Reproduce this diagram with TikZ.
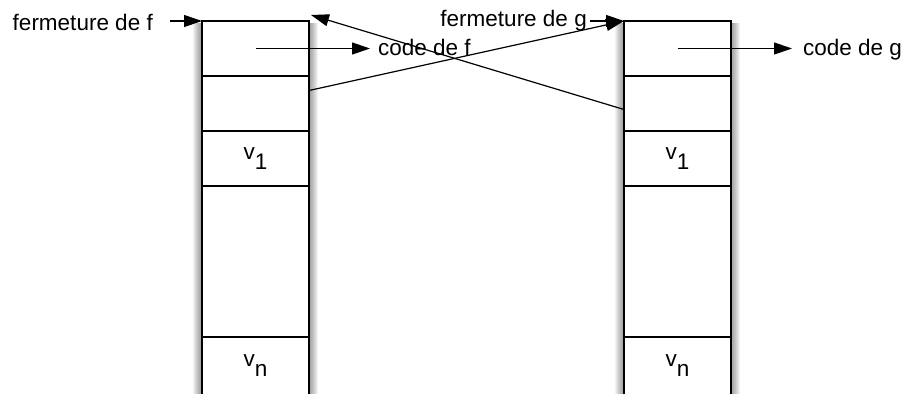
\documentclass[tikz,border=0pt]{standalone}
\usepackage{fontspec}
\setmainfont{Liberation Sans}
\usetikzlibrary{positioning,arrows.meta,backgrounds}
\tikzset{>={Triangle[length=18pt,width=12pt]}}
\tikzset{
  cell/.style={draw, line width=1.6pt, fill=white, minimum width=107pt, minimum height=55pt,
    inner sep=0pt, outer sep=0pt, font=\fontsize{22.5}{27}\selectfont},
  lbl/.style={inner sep=0pt, font=\fontsize{22.5}{27}\selectfont},
  link/.style={->, line width=1.2pt}
}
\newcommand{\vsub}[1]{v\raisebox{-0.42em}{#1}}

\begin{document}
\begin{tikzpicture}[x=1pt, y=-1pt]
    \useasboundingbox (0,0) rectangle (905,394);
    % closure of f
    \node[cell, anchor=north west] (fa) at (202,21) {};
    \node[cell, below=0pt of fa] (fb) {};
    \node[cell, below=0pt of fb] (fv1) {\vsub{1}};
    \node[cell, below=0pt of fv1, minimum height=151pt] (fmid) {};
    \node[cell, below=0pt of fmid, draw=none, minimum height=57pt] (fvn) {\vsub{n}};
    \draw[line width=1.6pt] (fvn.south west) |- (fvn.north east) -- (fvn.south east);
    % closure of g
    \node[cell, anchor=north west] (ga) at (624,21) {};
    \node[cell, below=0pt of ga] (gb) {};
    \node[cell, below=0pt of gb] (gv1) {\vsub{1}};
    \node[cell, below=0pt of gv1, minimum height=151pt] (gmid) {};
    \node[cell, below=0pt of gmid, draw=none, minimum height=57pt] (gvn) {\vsub{n}};
    \draw[line width=1.6pt] (gvn.south west) |- (gvn.north east) -- (gvn.south east);
    % soft shadows
    \begin{scope}[on background layer]
        \foreach \s in {1,...,9} {
            \fill[black, opacity=0.05] ([xshift=-\s pt, yshift=-2pt]fa.north west) rectangle ([xshift=\s pt]fvn.south east);
            \fill[black, opacity=0.05] ([xshift=-\s pt, yshift=-2pt]ga.north west) rectangle ([xshift=\s pt]gvn.south east);
        }
    \end{scope}
    % labels
    \node[lbl, anchor=base east] (ff) at (153,30) {fermeture de f};
    \node[lbl, anchor=base east] (fg) at (587,26) {fermeture de g};
    \node[lbl, anchor=base west] (cf) at (378,55) {code de f};
    \node[lbl, anchor=base west] (cg) at (803,55) {code de g};
    % arrows
    \draw[link] ([xshift=-32pt]fa.north west) -- (fa.north west);
    \draw[link] ([xshift=-34pt]ga.north west) -- (ga.north west);
    \draw[link, shorten >=8pt] (fa.center) -- (fa.center -| cf.west);
    \draw[link, shorten >=11pt] (ga.center) -- (ga.center -| cg.west);
    \draw[link] ([yshift=13pt]fb.east) -- (ga.north west);
    \draw[link] ([yshift=-6pt]gb.west) -- ([xshift=2pt, yshift=6pt]fa.north east);
\end{tikzpicture}
\end{document}
